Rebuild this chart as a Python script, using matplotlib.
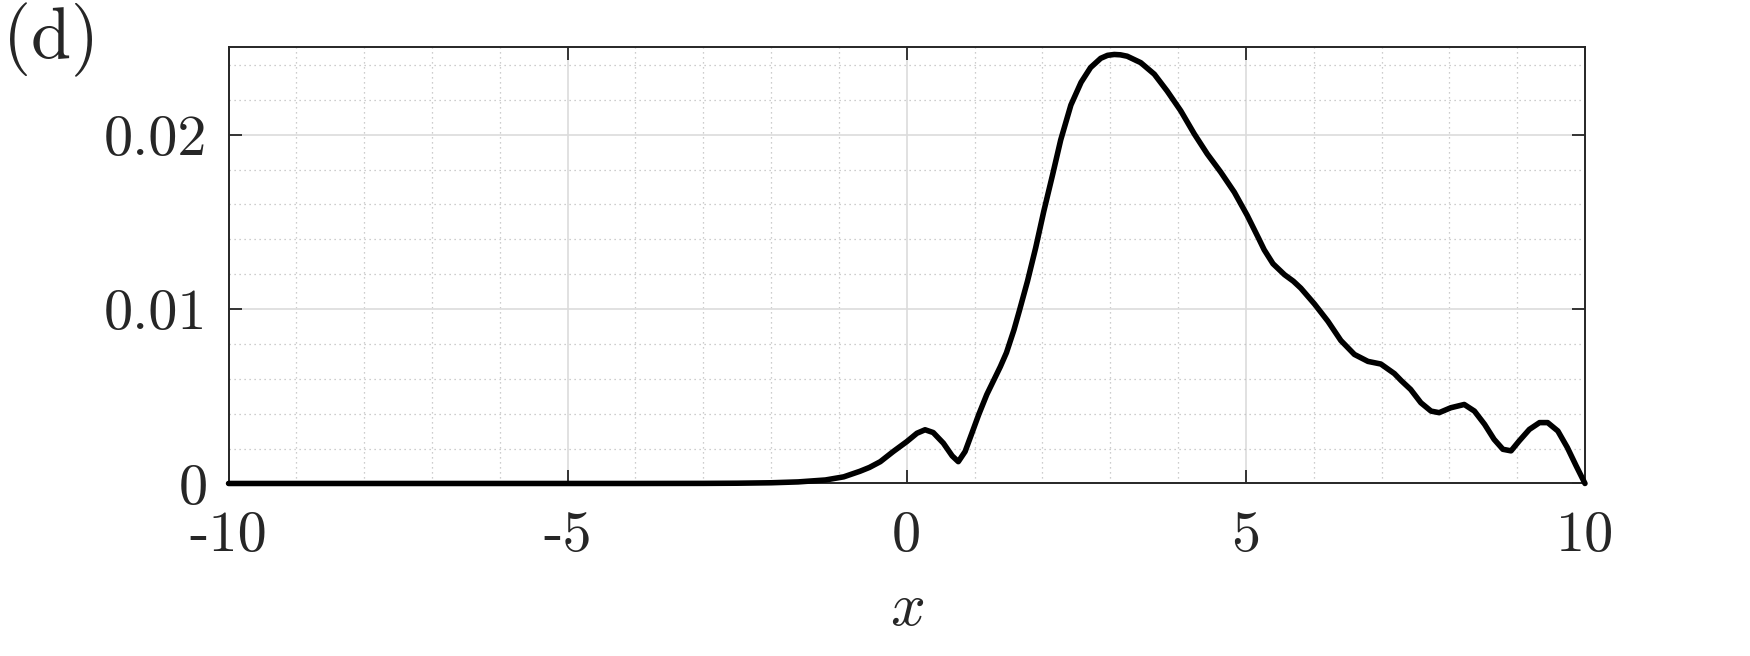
import matplotlib
matplotlib.use("Agg")
import matplotlib.pyplot as plt
from matplotlib.ticker import MultipleLocator, FixedLocator

plt.rcParams['font.family'] = 'serif'
plt.rcParams['font.serif'] = ['cmr10', 'DejaVu Serif']
plt.rcParams['mathtext.fontset'] = 'cm'
plt.rcParams['axes.unicode_minus'] = False

# data
x_vals = [-10.0, -8.0, -6.0, -4.0, -3.0, -2.5, -2.0, -1.6, -1.2, -0.93, -0.69,
          -0.55, -0.39, -0.20, 0.0, 0.15, 0.27, 0.39, 0.54, 0.67, 0.76,
          0.86, 0.96, 1.06, 1.18, 1.28, 1.38, 1.47, 1.58, 1.66, 1.78, 1.90,
          2.02, 2.15, 2.27, 2.42, 2.57, 2.71, 2.86, 2.96, 3.06, 3.15, 3.25,
          3.45, 3.65, 3.84, 4.04, 4.24, 4.43, 4.63, 4.83, 5.02, 5.19, 5.27,
          5.40, 5.57, 5.70, 5.81, 6.01, 6.21, 6.40, 6.60, 6.80, 6.99, 7.19,
          7.29, 7.43, 7.58, 7.73, 7.85, 8.02, 8.22, 8.37, 8.52, 8.66, 8.79,
          8.91, 9.03, 9.18, 9.33, 9.45, 9.60, 9.74, 9.87, 10.0]
y_vals = [0.0, 0.0, 0.0, 0.0, 0.000005, 0.000015, 0.00004, 0.00009, 0.0002,
          0.00038, 0.0007, 0.00092, 0.00125, 0.00183, 0.0024, 0.00288,
          0.00308, 0.00292, 0.00231, 0.00158, 0.00125, 0.00183, 0.00288,
          0.00394, 0.0051, 0.0059, 0.0067, 0.0075, 0.0088, 0.0099, 0.0116,
          0.0135, 0.0156, 0.0177, 0.0197, 0.0217, 0.0230, 0.02385, 0.02438,
          0.02455, 0.0246, 0.02458, 0.0245, 0.02413, 0.02347, 0.0225,
          0.02137, 0.02004, 0.0189, 0.01785, 0.0167, 0.01537, 0.01404,
          0.0134, 0.0126, 0.01197, 0.0116, 0.0112, 0.0103, 0.0093, 0.0082,
          0.0074, 0.0070, 0.00685, 0.0063, 0.0059, 0.00539, 0.00463, 0.00415,
          0.00406, 0.00434, 0.00453, 0.00415, 0.00339, 0.00253, 0.00196,
          0.00187, 0.00244, 0.0031, 0.00349, 0.00349, 0.00301, 0.00206,
          0.00101, 0.0]

x_ticks = [-10, -5, 0, 5, 10]
x_tick_labels = ['-10', '-5', '0', '5', '10']
y_ticks = [0, 0.01, 0.02]
y_tick_labels = ['0', '0.01', '0.02']

fig = plt.figure(figsize=(17.5, 6.56), dpi=100)
ax = fig.add_axes([0.1306, 0.2630, 0.7751, 0.6646])

ax.plot(x_vals, y_vals, color='black', lw=4.0, zorder=5, clip_on=False,
        solid_joinstyle='round', solid_capstyle='round')

ax.set_xlim(-10, 10)
ax.set_ylim(0, 0.025)

ax.xaxis.set_major_locator(FixedLocator(x_ticks))
ax.set_xticklabels(x_tick_labels)
ax.yaxis.set_major_locator(FixedLocator(y_ticks))
ax.set_yticklabels(y_tick_labels)
ax.xaxis.set_minor_locator(MultipleLocator(1))
ax.yaxis.set_minor_locator(MultipleLocator(0.002))

ax.grid(which='major', color='#dcdcdc', lw=1.2, ls='-')
ax.grid(which='minor', color='#bdbdbd', lw=0.9, ls=(0, (1, 3)))
ax.set_axisbelow(True)

ax.tick_params(which='major', direction='in', length=9.5, width=1.3,
               color='#262626', top=True, right=True, labelsize=42,
               labelcolor='#262626')
ax.tick_params(axis='y', pad=15)
ax.tick_params(axis='x', pad=20)
ax.tick_params(which='minor', length=0, top=True, right=True)

for s in ax.spines.values():
    s.set_color('#262626')
    s.set_linewidth(1.4)

ax.set_xlabel('$x$', fontsize=44, color='#262626', labelpad=14)

fig.text(0.002, 0.995, '(d)', fontsize=52, va='top', ha='left', color='#262626')

fig.savefig('out.png', dpi=100)
